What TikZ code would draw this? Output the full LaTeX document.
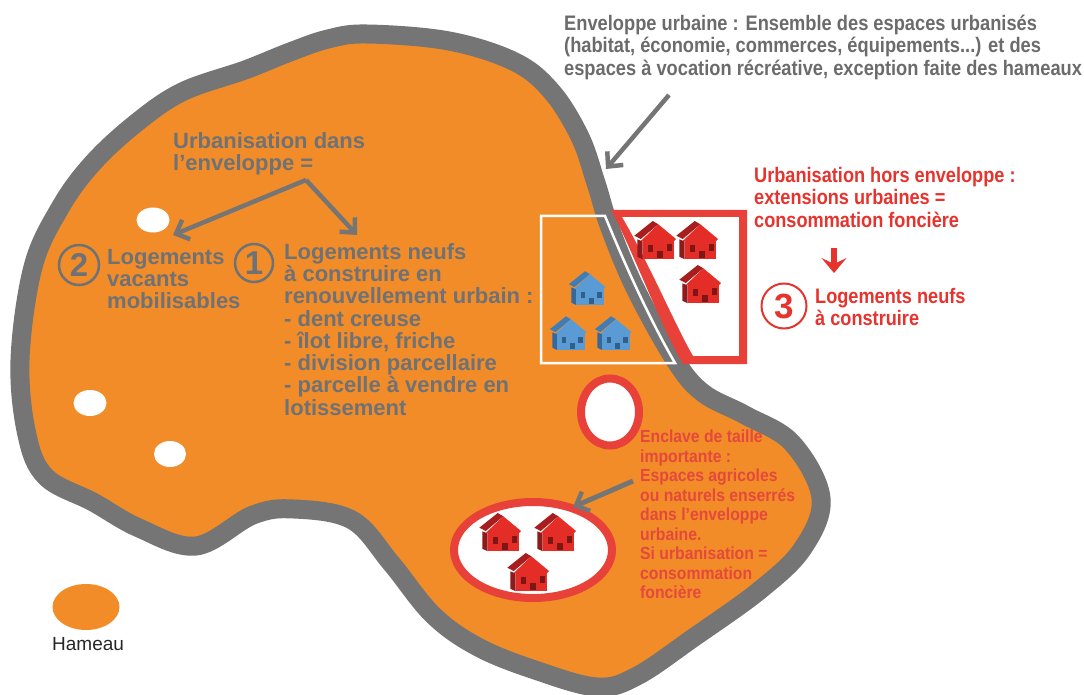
\documentclass[tikz,border=0pt]{standalone}
\usepackage{fontspec}
\setmainfont{Liberation Sans}
\usetikzlibrary{arrows.meta}
\definecolor{orangeB}{HTML}{F28C28}
\definecolor{grayB}{HTML}{757575}
\definecolor{grayT}{HTML}{6E7276}
\definecolor{grayTop}{HTML}{6B6B6B}
\definecolor{redB}{HTML}{E8413A}
\definecolor{redT}{HTML}{E6332D}
\definecolor{redE}{HTML}{E5483C}
\newcommand{\houseshape}[4]{%
  \fill[#3] (-17.7,-0.7)--(-12.3,1.5)--(-12.3,19.3)--(-17.7,16.7)--cycle;
  \fill[#1] (-12.3,0)rectangle(19,19.3);
  \fill[#2] (-20.7,-4.3)--(-2.3,-19)--(3.3,-15.7)--(-14.3,-1)--cycle;
  \fill[#1] (3.3,-15.7)--(21,-1)--(19,1)--(-14.3,1)--cycle;
  \fill[#4] (-6.7,5)rectangle(-2.3,11.7);
  \fill[#4] (11.7,4.3)rectangle(16.7,11);
  \fill[#4] (1.7,11)rectangle(7.7,18.3);
}
\definecolor{bF}{HTML}{5B9BD5}\definecolor{bR}{HTML}{417DB5}\definecolor{bS}{HTML}{35699B}\definecolor{bW}{HTML}{2F5F8A}
\definecolor{rF}{HTML}{E52D27}\definecolor{rR}{HTML}{A81E1E}\definecolor{rS}{HTML}{8F1A1A}\definecolor{rW}{HTML}{7F1616}
\tikzset{
  redhouse/.pic={\houseshape{rF}{rR}{rS}{rW}},
  bluehouse/.pic={\houseshape{bF}{bR}{bS}{bW}},
  txt/.style={anchor=north west,inner sep=0pt,align=left,transform shape},
  big/.style={txt,text=grayT,font=\bfseries\fontsize{22}{22.3}\selectfont},
  toptxt/.style={txt,text=grayTop,xscale=.87,font=\bfseries\fontsize{21}{22.3}\selectfont},
  redtxt/.style={txt,text=redT,xscale=.865,font=\bfseries\fontsize{21}{22.3}\selectfont},
  enctxt/.style={txt,text=redE,xscale=.9,font=\bfseries\fontsize{17.5}{19.5}\selectfont},
  numc/.style={circle,draw,line width=2.5pt,inner sep=0pt,font=\bfseries\fontsize{33}{33}\selectfont},
  barb/.style={-{Straight Barb[length=11pt,width=21pt,line width=4.5pt]},line width=4.5pt,draw=grayB},
}
\begin{document}
\begin{tikzpicture}[x=1pt,y=-1pt]
\useasboundingbox (0,0) rectangle (1084,695);
% envelope
\draw[fill=orangeB,draw=grayB,line width=19pt,line join=round]
  plot[smooth cycle,tension=.6] coordinates {(20,360)(33,267)(60,208)(92,164)(135,124)(182,92)(245,70)(290,52)(328,39)(367,34)(449,41)(515,62)(552,92)(580,137)(596,183)(610,228)(636,290)(675,360)(703,393)(745,415)(792,443)(821,498)(803,548)(760,590)(693,638)(637,676)(597,687)(535,670)(478,647)(433,615)(391,563)(352,520)(294,509)(253,515)(196,546)(139,528)(93,502)(46,477)(27,435)};
% white holes
\fill[white] (153,220) ellipse [x radius=16.5,y radius=12.5];
\fill[white] (90,403) ellipse [x radius=16.5,y radius=13];
\fill[white] (170,454) ellipse [x radius=16,y radius=13];
% enclaves
\draw[redB,fill=white,line width=8pt] (610,412) ellipse [x radius=29,y radius=33.5];
\draw[redB,fill=white,line width=8pt] (533,550) ellipse [x radius=79,y radius=48];
% extension shape
\fill[redB,even odd rule] (611,210)--(747,210)--(747,364)--(683,364) .. controls (660,325) and (635,255) .. (611,210)--cycle
  (622,217)--(739,217)--(739,356)--(693,356) .. controls (675,325) and (650,265) .. (622,217)--cycle;
% white frame
\draw[white,line width=2.5pt] (541,216)--(605,216) .. controls (625,265) and (650,320) .. (675,363)--(541,363)--cycle;
% houses
\pic at (655,240) {redhouse};
\pic at (697,240) {redhouse};
\pic at (700,284) {redhouse};
\pic[scale=.88] at (587,288) {bluehouse};
\pic[scale=.88] at (568,333) {bluehouse};
\pic[scale=.88] at (613,333) {bluehouse};
\pic at (500,532) {redhouse};
\pic at (555,532) {redhouse};
\pic at (528,572) {redhouse};
% hamlet legend
\fill[orangeB] (86,607) ellipse [x radius=33.5,y radius=23];
\node[txt,text=black!85,font=\fontsize{19}{20}\selectfont] (ham) at (52,637) {Hameau};
% texts
\node[toptxt] (top) at (564,15) {Enveloppe urbaine : Ensemble des espaces urbanisés\\(habitat, économie, commerces, équipements...) et des\\espaces à vocation récréative, exception faite des hameaux};
\node[big] (urb) at (173,132) {Urbanisation dans\\l’enveloppe =};
\node[big] (neufs) at (284,243) {Logements neufs\\à construire en\\renouvellement urbain :\\- dent creuse\\- îlot libre, friche\\- division parcellaire\\- parcelle à vendre en\\lotissement};
\node[big] (vac) at (107,249) {Logements\\vacants\\mobilisables};
\node[numc,draw=grayT,text=grayT,minimum size=40pt] (n2) at (79,265) {2};
\node[numc,draw=grayT,text=grayT,minimum size=38pt] (n1) at (254,263) {1};
\node[redtxt] (hors) at (754,167) {Urbanisation hors enveloppe :\\extensions urbaines =\\consommation foncière};
\node[numc,draw=redT,text=redT,line width=2pt,minimum size=45pt,font=\bfseries\fontsize{35}{35}\selectfont] (n3) at (784,306) {3};
\node[redtxt] (neufs3) at (815,288) {Logements neufs\\à construire};
\node[enctxt] (enc) at (640,430) {Enclave de taille\\importante :\\Espaces agricoles\\ou naturels enserrés\\dans l’enveloppe\\urbaine.\\Si urbanisation =\\consommation\\foncière};
% arrows
\coordinate (a1s) at (669,95); \coordinate (a1e) at (606,169);
\draw[barb] (a1s)--(a1e);
\coordinate (v) at (306,180); \coordinate (vl) at (173,235); \coordinate (vr) at (357,235);
\draw[barb] (v)--(vl);
\draw[barb] (v)--(vr);
\coordinate (a3s) at (633,481); \coordinate (a3e) at (573,507);
\draw[barb,line width=5pt] (a3s)--(a3e);
\coordinate (a4s) at (834,248); \coordinate (a4e) at (834,273);
\draw[-{Stealth[length=15pt,width=25pt,inset=6pt]},line width=5.5pt,draw=redT] (a4s)--(a4e);
\end{tikzpicture}
\end{document}
